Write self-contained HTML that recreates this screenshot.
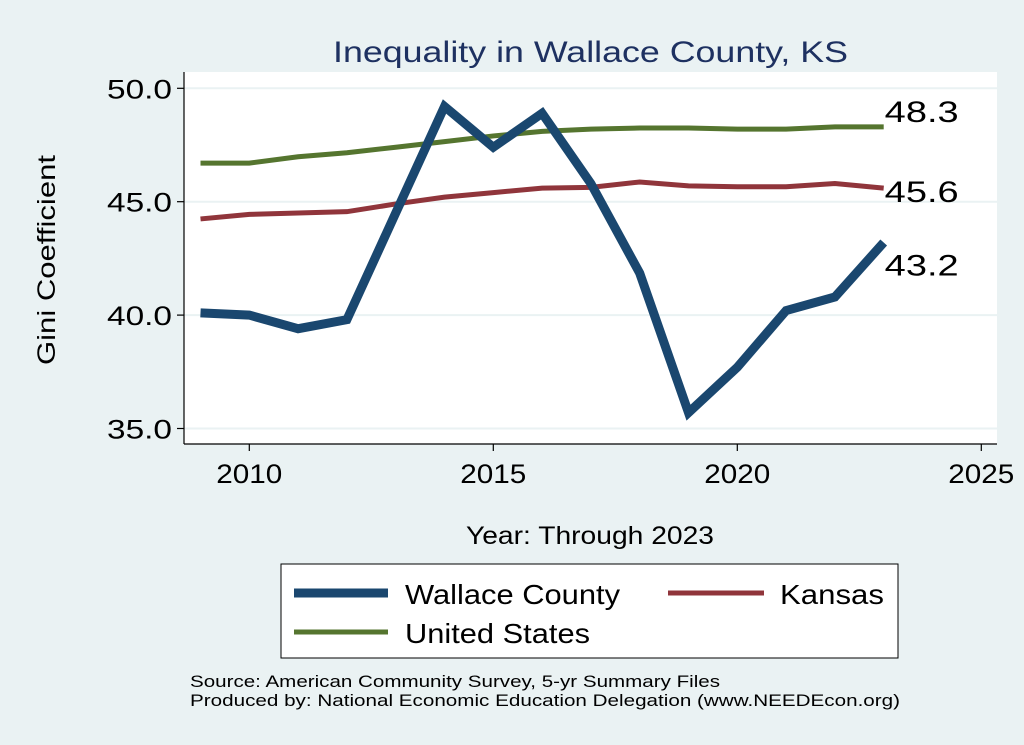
<!DOCTYPE html>
<html><head><meta charset="utf-8"><style>
body{margin:0;background:#eaf2f3;}
svg{display:block;font-family:"Liberation Sans",Arial,sans-serif;}
</style></head><body>
<svg id="chart" width="1024" height="745" viewBox="0 0 1024 745">
<rect x="0" y="0" width="1024" height="745" fill="#eaf2f3"/>
<text x="333" y="62" font-size="30" fill="#1e3161" textLength="515" lengthAdjust="spacingAndGlyphs">Inequality in Wallace County, KS</text>
<rect x="184" y="72" width="813" height="372" fill="#ffffff"/>
<g id="grid"></g>
<g id="axes"></g>
<g id="series"></g>
<text x="55" y="260" font-size="25" fill="#000" text-anchor="middle" textLength="210" lengthAdjust="spacingAndGlyphs" transform="rotate(-90 55 260)">Gini Coefficient</text>
<text x="590" y="544" font-size="25" fill="#000" text-anchor="middle" textLength="248" lengthAdjust="spacingAndGlyphs">Year: Through 2023</text>
<g>
<rect x="281" y="564" width="617" height="94" fill="#fff" stroke="#000" stroke-width="1"/>
<line x1="294" y1="593" x2="388" y2="593" stroke="#1a476f" stroke-width="9"/>
<text x="405" y="604" font-size="28" textLength="215" lengthAdjust="spacingAndGlyphs">Wallace County</text>
<line x1="668" y1="593" x2="764" y2="593" stroke="#90353b" stroke-width="5"/>
<text x="780" y="604" font-size="28" textLength="104" lengthAdjust="spacingAndGlyphs">Kansas</text>
<line x1="294" y1="632" x2="388" y2="632" stroke="#55752f" stroke-width="5"/>
<text x="405" y="643" font-size="28" textLength="185" lengthAdjust="spacingAndGlyphs">United States</text>
</g>
<text x="190" y="687" font-size="17" textLength="530" lengthAdjust="spacingAndGlyphs">Source: American Community Survey, 5-yr Summary Files</text>
<text x="190" y="706" font-size="17" textLength="710" lengthAdjust="spacingAndGlyphs">Produced by: National Economic Education Delegation (www.NEEDEcon.org)</text>
</svg>
<script>
const years=[2009,2010,2011,2012,2013,2014,2015,2016,2017,2018,2019,2020,2021,2022,2023];
const wallace=[40.1,40.0,39.4,39.8,44.5,49.2,47.4,48.9,45.8,41.85,35.7,37.7,40.2,40.8,43.2];
const kansas=[44.24,44.44,44.5,44.56,44.9,45.2,45.4,45.6,45.63,45.87,45.7,45.66,45.66,45.8,45.6];
const usa=[46.7,46.7,46.98,47.16,47.4,47.65,47.9,48.1,48.2,48.25,48.25,48.2,48.2,48.3,48.3];
const yTicks=[35,40,45,50];
const yTickLabels=["35.0","40.0","45.0","50.0"];
const xTicks=[2010,2015,2020,2025];
const endLabels=["43.2","45.6","48.3"];
const NS="http://www.w3.org/2000/svg";
function X(v){return 249.3+(v-2010)*48.8;}
function Y(v){return 88.3+(50-v)*22.68;}
function mk(tag,attrs,parent,text){const e=document.createElementNS(NS,tag);for(const k in attrs)e.setAttribute(k,attrs[k]);if(text!==undefined)e.textContent=text;parent.appendChild(e);return e;}
const grid=document.getElementById('grid'),axes=document.getElementById('axes'),ser=document.getElementById('series');
yTicks.forEach((t,i)=>{
 const g=mk('line',{x1:184,x2:997,y1:Y(t),y2:Y(t),stroke:'#eaf2f3','stroke-width':2},grid);
 
 
 mk('line',{x1:177,x2:184,y1:Y(t),y2:Y(t),stroke:'#000','stroke-width':1.2},axes);
 const l=mk('text',{x:107,y:Y(t)+10,'font-size':27,textLength:65,lengthAdjust:'spacingAndGlyphs'},axes,yTickLabels[i]);
 
 
});
mk('line',{x1:184,x2:184,y1:72,y2:444,stroke:'#000','stroke-width':1.2},axes);
mk('line',{x1:184,x2:997,y1:444,y2:444,stroke:'#000','stroke-width':1.2},axes);
xTicks.forEach(t=>{
 mk('line',{x1:X(t),x2:X(t),y1:444,y2:451,stroke:'#000','stroke-width':1.2},axes);
 const l=mk('text',{x:X(t)-33,y:483,'font-size':27,textLength:66,lengthAdjust:'spacingAndGlyphs'},axes,String(t));
 
 
});
function line(data,color,w,name){
 const p=mk('polyline',{points:data.map((v,i)=>X(years[i])+','+Y(v)).join(' '),fill:'none',stroke:color,'stroke-width':w,'stroke-linejoin':'miter'},ser);
 
 
}
line(usa,'#55752f',5,'line-united-states');
line(kansas,'#90353b',5,'line-kansas');
line(wallace,'#1a476f',9,'line-wallace-county');
const n=years.length-1;
const lx=X(years[n])+1;
[[wallace[n],endLabels[0],33],[kansas[n],endLabels[1],14],[usa[n],endLabels[2],-5]].forEach(([v,t,dy])=>{
 const l=mk('text',{x:lx,y:Y(v)+dy,'font-size':30,textLength:74,lengthAdjust:'spacingAndGlyphs'},ser,t);
 
 
});
</script>
</body></html>
